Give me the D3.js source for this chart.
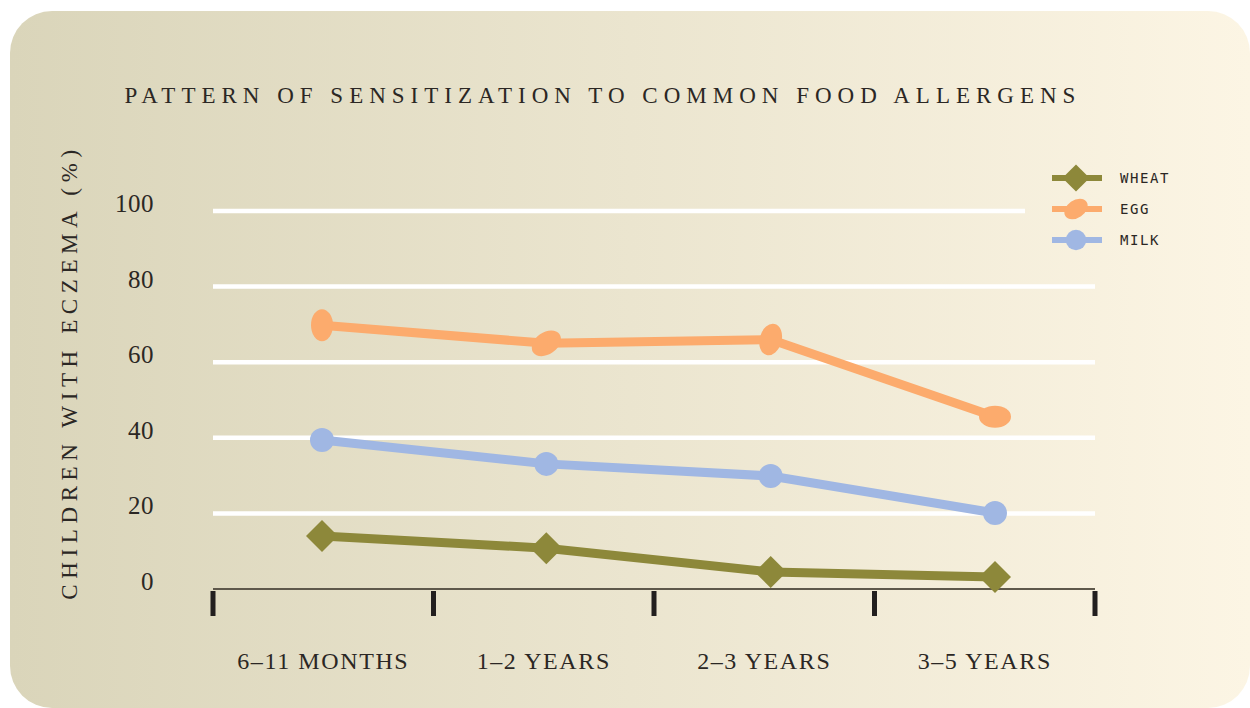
<!DOCTYPE html>
<html>
<head>
<meta charset="utf-8">
<script src="https://cdn.jsdelivr.net/npm/d3@7"></script>
<style>
  body { margin: 0; background: #fff; }
  svg { display: block; }
</style>
</head>
<body>
<svg id="chart" width="1250" height="708"></svg>
<script>
// chart data
const categories = ["6–11 MONTHS", "1–2 YEARS", "2–3 YEARS", "3–5 YEARS"];
const wheat = [14.0, 10.8, 4.5, 3.2];
const egg = [69.8, 65.0, 66.0, 45.6];
const milk = [39.4, 33.1, 29.9, 20.1];
const yTicks = [0, 20, 40, 60, 80, 100];

const series = [
  { name: "WHEAT", values: wheat, color: "#8d883a", shape: "diamond" },
  { name: "EGG", values: egg, color: "#fcab6d", shape: "egg" },
  { name: "MILK", values: milk, color: "#a0b7e3", shape: "circle" }
];

const svg = d3.select("#chart");

// background card
const defs = svg.append("defs");
const grad = defs.append("linearGradient").attr("id", "bg");
grad.append("stop").attr("offset", "0%").attr("stop-color", "#dad5ba");
grad.append("stop").attr("offset", "100%").attr("stop-color", "#fcf5e4");
svg.append("rect")
  .attr("x", 10).attr("y", 11)
  .attr("width", 1240).attr("height", 697)
  .attr("rx", 42)
  .attr("fill", "url(#bg)");

const serif = "'Liberation Serif', 'DejaVu Serif', serif";

// band scale for ticks + labels, point scale for the data
const xBand = d3.scaleBand().domain(categories).range([213, 1095]);
const x = d3.scalePoint().domain(categories).range([322, 995]);
const y = d3.scaleLinear().domain([0, 100]).range([589, 211]);

// title
svg.append("text")
  .attr("x", 603).attr("y", 103)
  .attr("text-anchor", "middle")
  .style("font-family", serif)
  .style("font-size", "23px")
  .style("letter-spacing", "6px")
  .attr("fill", "#2b2724")
  .text("PATTERN OF SENSITIZATION TO COMMON FOOD ALLERGENS");

// y axis label
svg.append("text")
  .attr("transform", "translate(77,372) rotate(-90)")
  .attr("text-anchor", "middle")
  .style("font-family", serif)
  .style("font-size", "23px")
  .style("letter-spacing", "5.6px")
  .attr("fill", "#2b2724")
  .text("CHILDREN WITH ECZEMA (%)");

// gridlines
svg.append("g")
  .selectAll("line")
  .data(yTicks.filter(d => d > 0))
  .join("line")
  .attr("x1", 213)
  .attr("x2", d => d === 100 ? 1025 : 1095)
  .attr("y1", d => y(d)).attr("y2", d => y(d))
  .attr("stroke", "#ffffff")
  .attr("stroke-width", 4.5);

// y tick labels
svg.append("g")
  .selectAll("text")
  .data(yTicks)
  .join("text")
  .attr("x", 154)
  .attr("y", d => y(d) + 1)
  .attr("text-anchor", "end")
  .style("font-family", serif)
  .style("font-size", "25px")
  .style("letter-spacing", "0.5px")
  .attr("fill", "#2b2724")
  .text(d => d);

// x axis
const xAxis = svg.append("g").attr("transform", "translate(0,589)");
xAxis.append("line")
  .attr("x1", 213).attr("x2", 1095)
  .attr("stroke", "#5e584b").attr("stroke-width", 2);
const bounds = categories.map(c => xBand(c)).concat([xBand.range()[1]]);
xAxis.selectAll("rect.tick")
  .data(bounds)
  .join("rect")
  .attr("class", "tick")
  .attr("x", d => d - 2.5)
  .attr("y", 2)
  .attr("width", 5)
  .attr("height", 25)
  .attr("fill", "#221f1f");
xAxis.selectAll("text")
  .data(categories)
  .join("text")
  .attr("x", d => xBand(d) + xBand.bandwidth() / 2)
  .attr("y", 80)
  .attr("text-anchor", "middle")
  .style("font-family", serif)
  .style("font-size", "24px")
  .style("letter-spacing", "1.6px")
  .attr("fill", "#2b2724")
  .text(d => d);

// markers
const eggTilt = [0, 55, 15, 90];
function drawMarker(g, shape, color, cx, cy, i, scale) {
  const s = scale || 1;
  if (shape === "diamond") {
    const r = 16 * s;
    g.append("path")
      .attr("d", `M${cx},${cy - r}L${cx + r},${cy}L${cx},${cy + r}L${cx - r},${cy}Z`)
      .attr("fill", color);
  } else if (shape === "egg") {
    g.append("ellipse")
      .attr("cx", cx).attr("cy", cy)
      .attr("rx", 11 * s).attr("ry", 16 * s)
      .attr("transform", `rotate(${eggTilt[i]},${cx},${cy})`)
      .attr("fill", color);
  } else {
    g.append("circle")
      .attr("cx", cx).attr("cy", cy)
      .attr("r", 12 * s)
      .attr("fill", color);
  }
}

const line = d3.line()
  .x((d, i) => x(categories[i]))
  .y(d => y(d));

series.forEach(s => {
  const g = svg.append("g");
  g.append("path")
    .datum(s.values)
    .attr("d", line)
    .attr("fill", "none")
    .attr("stroke", s.color)
    .attr("stroke-width", 9);
  s.values.forEach((v, i) => {
    drawMarker(g, s.shape, s.color, x(categories[i]), y(v), i);
  });
});

// legend
const legend = svg.append("g");
series.forEach((s, i) => {
  const ly = 178 + i * 31;
  legend.append("line")
    .attr("x1", 1052).attr("x2", 1102)
    .attr("y1", ly).attr("y2", ly)
    .attr("stroke", s.color).attr("stroke-width", 6);
  drawMarker(legend, s.shape, s.color, 1076, ly, 1, s.shape === "egg" ? 0.8 : 0.85);
  legend.append("text")
    .attr("x", 1120).attr("y", ly + 5)
    .style("font-family", "'DejaVu Sans Mono', monospace")
    .style("font-size", "14px")
    .style("letter-spacing", "1.6px")
    .attr("fill", "#2b2724")
    .text(s.name);
});
</script>
</body>
</html>
